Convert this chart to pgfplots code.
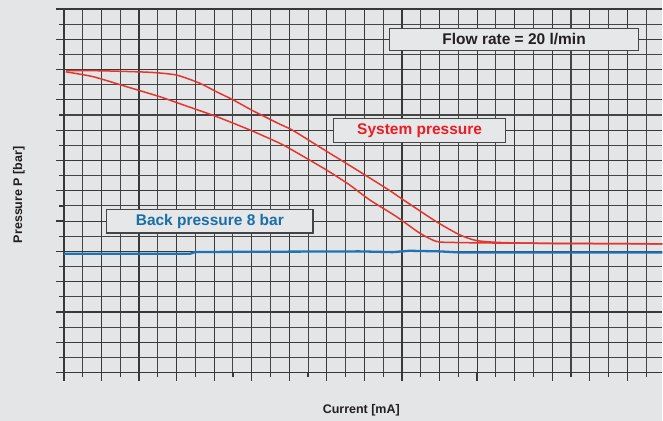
\documentclass[border=0pt]{standalone}
\usepackage{pgfplots}
\pgfplotsset{compat=1.18}
\usepackage{fontspec}
\setmainfont{Liberation Sans}
\definecolor{bgc}{HTML}{E4E5E6}
\definecolor{boxc}{HTML}{E6E7E8}
\definecolor{gridc}{HTML}{383838}
\definecolor{gridm}{HTML}{454545}
\definecolor{redc}{HTML}{E2362F}
\definecolor{redt}{HTML}{EC1C24}
\definecolor{bluec}{HTML}{1F73B5}
\definecolor{bluet}{HTML}{1A6EA6}
\definecolor{txtc}{HTML}{231F20}
\begin{document}
\begin{tikzpicture}[x=1pt,y=1pt]
\fill[bgc] (0,0) rectangle (663,421);
\begin{axis}[
  at={(64pt,48pt)}, anchor=south west,
  scale only axis, width=599pt, height=364pt,
  xmin=0, xmax=31.86, ymin=0, ymax=24,
  axis x line=bottom, axis y line=left,
  axis line style={-, draw=gridc, line width=1.5pt},
  xtick={0,2,...,30}, minor xtick={1,3,...,31},
  ytick={0,2,...,24}, minor ytick={1,3,...,23},
  xticklabels={}, yticklabels={},
  tick align=outside,
  major tick length=8pt, minor tick length=4.5pt,
  tick style={draw=gridc, line width=1.2pt},
  grid=both,
  major grid style={draw=gridc, line width=1.15pt},
  minor grid style={draw=gridm, line width=1.1pt},
  xlabel={Current [mA]}, ylabel={Pressure P [bar]},
  label style={font=\fontsize{12.5}{14}\selectfont\bfseries, text=txtc},
  xlabel style={at={(rel axis cs:0.497,-0.1044)}, anchor=center},
  ylabel style={at={(rel axis cs:-0.0751,0.489)}, anchor=center},
]
\addplot[redc, line width=1.5pt, smooth, tension=0.4] coordinates {
(0.1,19.93) (2,19.92) (4.57,19.82) (5.99,19.64) (7.23,19.10) (8.12,18.54) (9.01,18.0) (10.07,17.28) (11.49,16.40) (12.20,15.98) (13.97,14.62) (15.74,13.27) (17.34,12.02) (18.05,11.42) (19.82,9.97) (21.06,9.10) (21.95,8.72) (23.19,8.59) (26,8.52) (31.9,8.50)};
\addplot[redc, line width=1.5pt, smooth, tension=0.4] coordinates {
(0.1,19.85) (1.56,19.53) (3.34,18.87) (5.11,18.21) (6.35,17.67) (8.12,16.90) (9.89,16.02) (11.49,15.14) (12.20,14.66) (13.97,13.38) (15.21,12.39) (16.28,11.40) (17.70,10.30) (18.94,9.21) (19.82,8.66) (20.69,8.59) (23.19,8.55) (31.9,8.50)};
\addplot[bluec, line width=2.3pt] coordinates {
(0,7.84) (6.7,7.84) (7.0,7.96) (15.74,8.0) (17.5,7.95) (18.4,8.04) (20,8.0) (21.06,7.93) (31.9,7.93)};
\node[draw=gridm, line width=1.2pt, fill=boxc, minimum width=249pt, minimum height=22.7pt, inner sep=0pt,
  font=\fontsize{15.5}{18}\selectfont\bfseries, text=txtc] at (axis cs:23.97,21.99) {Flow rate = 20 l/min};
\node[draw=gridm, line width=1.2pt, fill=boxc, minimum width=172pt, minimum height=23.3pt, inner sep=0pt,
  font=\fontsize{15.5}{18}\selectfont\bfseries, text=redt] at (axis cs:18.94,15.98) {System pressure};
\node[draw=gridm, line width=1.2pt, fill=boxc, minimum width=206.6pt, minimum height=23.3pt, inner sep=0pt,
  font=\fontsize{15.5}{18}\selectfont\bfseries, text=bluet] at (axis cs:7.77,9.98) {Back pressure 8 bar};
\end{axis}
\end{tikzpicture}
\end{document}
